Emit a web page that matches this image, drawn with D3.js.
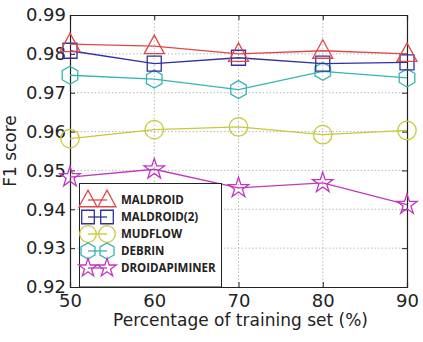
<!DOCTYPE html>
<html>
<head>
<meta charset="utf-8">
<script src="https://cdn.jsdelivr.net/npm/d3@7"></script>
<style>
  body { margin: 0; background: #fff; }
  svg { display: block; }
</style>
</head>
<body>
<svg id="chart" width="423" height="342"></svg>
<script>
// --- data ---
var trainPct = [50, 60, 70, 80, 90];
var maldroid = [0.9825, 0.9820, 0.9800, 0.9808, 0.9800];
var maldroid2 = [0.9808, 0.9775, 0.9790, 0.9775, 0.9778];
var mudflow = [0.9582, 0.9605, 0.9612, 0.9592, 0.9603];
var debrin = [0.9745, 0.9735, 0.9708, 0.9755, 0.9738];
var droidapiminer = [0.9483, 0.9503, 0.9455, 0.9468, 0.9412];
var xTicks = [50, 60, 70, 80, 90];
var yTicks = [0.92, 0.93, 0.94, 0.95, 0.96, 0.97, 0.98, 0.99];

var series = [
  { name: "MALDROID", values: maldroid, color: "#e04848", marker: "tri" },
  { name: "MALDROID(2)", values: maldroid2, color: "#3030a0", marker: "sq" },
  { name: "MUDFLOW", values: mudflow, color: "#c8c838", marker: "circ" },
  { name: "DEBRIN", values: debrin, color: "#38b4b4", marker: "hex" },
  { name: "DROIDAPIMINER", values: droidapiminer, color: "#c038c0", marker: "star" }
];

var svg = d3.select("#chart");
var m = { left: 70, right: 16, top: 15, bottom: 55 };
var W = 423, H = 342;
var x = d3.scaleLinear().domain([50, 90]).range([m.left, W - m.right]);
var y = d3.scaleLinear().domain([0.92, 0.99]).range([H - m.bottom, m.top]);

// grid
var grid = svg.append("g");
grid.selectAll(".gx").data(xTicks.slice(1, -1)).enter().append("line")
  .attr("x1", d => x(d)).attr("x2", d => x(d))
  .attr("y1", y(0.92)).attr("y2", y(0.99))
  .attr("stroke", "#aaa").attr("stroke-width", 0.8).attr("stroke-dasharray", "1.5,2");
grid.selectAll(".gy").data(yTicks.slice(1, -1)).enter().append("line")
  .attr("y1", d => y(d)).attr("y2", d => y(d))
  .attr("x1", x(50)).attr("x2", x(90))
  .attr("stroke", "#aaa").attr("stroke-width", 0.8).attr("stroke-dasharray", "1.5,2");

// axes, ticks inside on all four sides
var font = "'DejaVu Sans', sans-serif";
var axB = svg.append("g").attr("transform", "translate(0," + y(0.92) + ")")
  .call(d3.axisBottom(x).tickValues(xTicks).tickSize(-5).tickPadding(7).tickFormat(d3.format("d")));
var axT = svg.append("g").attr("transform", "translate(0," + y(0.99) + ")")
  .call(d3.axisTop(x).tickValues(xTicks).tickSize(-5).tickFormat(""));
var axL = svg.append("g").attr("transform", "translate(" + x(50) + ",0)")
  .call(d3.axisLeft(y).tickValues(yTicks).tickSize(-5).tickPadding(4).tickFormat(d3.format(".2f")));
var axR = svg.append("g").attr("transform", "translate(" + x(90) + ",0)")
  .call(d3.axisRight(y).tickValues(yTicks).tickSize(-5).tickFormat(""));
[axB, axT, axL, axR].forEach(function(a) {
  a.select(".domain").attr("stroke", "#222").attr("stroke-width", 1.2);
  a.selectAll(".tick line").attr("stroke", "#222");
  a.selectAll("text").attr("font-family", font).attr("font-size", 18).attr("fill", "#222");
});

svg.append("text").attr("x", (x(50) + x(90)) / 2 + 2).attr("y", 326)
  .attr("text-anchor", "middle").attr("font-family", font).attr("font-size", 17)
  .attr("fill", "#222").text("Percentage of training set (%)");
svg.append("text").attr("transform", "translate(16," + ((y(0.92) + y(0.99)) / 2) + ") rotate(-90)")
  .attr("text-anchor", "middle").attr("font-family", font).attr("font-size", 17)
  .attr("fill", "#222").text("F1 score");

// caption, mostly cut off by the bottom edge
svg.append("text").attr("x", 205).attr("y", 355).attr("text-anchor", "middle")
  .attr("font-family", "'Liberation Serif', serif").attr("font-weight", "bold")
  .attr("font-size", 17).attr("fill", "#222").text("Figure 4. Score Comparisons");

// marker shapes
function markerPath(type, s) {
  var r = s / 2;
  if (type === "tri") return "M0," + (-r * 1.1) + "L" + (r) + "," + (r * 0.75) + "L" + (-r) + "," + (r * 0.75) + "Z";
  if (type === "sq") return "M" + (-r * 0.7) + "," + (-r * 0.75) + "h" + (r * 1.4) + "v" + (r * 1.5) + "h" + (-r * 1.4) + "Z";
  if (type === "circ") return d3.symbol(d3.symbolCircle, Math.PI * r * r * 0.85)();
  if (type === "hex") {
    var pts = d3.range(6).map(function(i) {
      var a = Math.PI / 6 + i * Math.PI / 3;
      return [Math.cos(a) * r * 0.9, Math.sin(a) * r * 0.9];
    });
    return "M" + pts.join("L") + "Z";
  }
  if (type === "star") return d3.symbol(d3.symbolStar, r * r * 1.3)();
}
function drawMarker(g, type, cx, cy, color, s) {
  g.append("path").attr("d", markerPath(type, s))
    .attr("transform", "translate(" + cx + "," + cy + ")")
    .attr("fill", "none").attr("stroke", color).attr("stroke-width", 1.3);
}

var line = d3.line().x(function(d, i) { return x(trainPct[i]); }).y(function(d) { return y(d); });
var plot = svg.append("g");
series.slice().reverse().forEach(function(s) {
  plot.append("path").datum(s.values).attr("d", line)
    .attr("fill", "none").attr("stroke", s.color).attr("stroke-width", 1.3);
  s.values.forEach(function(v, i) {
    drawMarker(plot, s.marker, x(trainPct[i]), y(v), s.color, 20);
  });
});

// legend
var lg = svg.append("g");
lg.append("rect").attr("x", 79.5).attr("y", 183.5).attr("width", 142).attr("height", y(0.92) - 183.5)
  .attr("fill", "#fff").attr("stroke", "#222").attr("stroke-width", 1);
series.forEach(function(s, i) {
  var ly = 200 + i * 17;
  lg.append("line").attr("x1", 88).attr("x2", 107).attr("y1", ly).attr("y2", ly)
    .attr("stroke", s.color).attr("stroke-width", 1.3);
  drawMarker(lg, s.marker, 88, ly, s.color, 18);
  drawMarker(lg, s.marker, 107, ly, s.color, 18);
  lg.append("text").attr("x", 121).attr("y", ly + 4).attr("font-family", "'Open Sans', sans-serif")
    .attr("font-weight", "bold").attr("font-size", 11.5).attr("fill", "#222").text(s.name);
});
</script>
</body>
</html>
